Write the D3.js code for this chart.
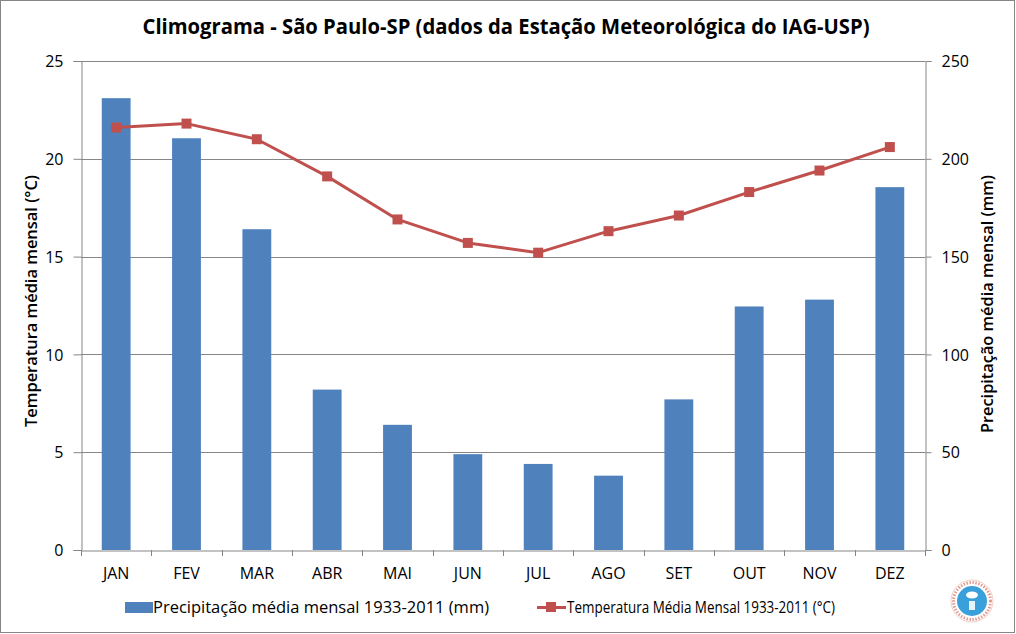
<!DOCTYPE html>
<html><head><meta charset="utf-8">
<script src="https://cdn.jsdelivr.net/npm/d3@7"></script>
<style>body{margin:0;background:#fff}svg{display:block}text{font-family:"Open Sans","Liberation Sans",sans-serif}</style>
</head><body><svg id="c" width="1016" height="634"></svg>
<script>
const months = ["JAN","FEV","MAR","ABR","MAI","JUN","JUL","AGO","SET","OUT","NOV","DEZ"];
const precipitation = [231, 210.5, 164, 82, 64, 49, 44, 38, 77, 124.5, 128, 185.5];
const temperature = [21.6, 21.8, 21.0, 19.1, 16.9, 15.7, 15.2, 16.3, 17.1, 18.3, 19.4, 20.6];
const tempTicks = [0,5,10,15,20,25];
const precTicks = [0,50,100,150,200,250];

const svg = d3.select("#c");
const L = 81, R = 925, T = 61, B = 550;
const x = d3.scaleBand().domain(months).range([L, R]).paddingInner(0.59).paddingOuter(0.295);
const xb = d3.scaleBand().domain(months).range([L, R]);
const yT = d3.scaleLinear().domain([0,25]).range([B, T]);
const yP = d3.scaleLinear().domain([0,250]).range([B, T]);

svg.append("rect").attr("x",0.5).attr("y",0.5).attr("width",1014).attr("height",632).attr("fill","#fff").attr("stroke","#868686");

// gridlines
svg.append("g").selectAll("line").data(tempTicks.filter(d=>d>0)).join("line")
  .attr("x1",L).attr("x2",R).attr("y1",d=>Math.round(yT(d))+0.5).attr("y2",d=>Math.round(yT(d))+0.5)
  .attr("stroke","#868686").attr("stroke-width",1);

// bars
svg.append("g").selectAll("rect").data(months).join("rect")
  .attr("x",d=>x(d)).attr("width",x.bandwidth())
  .attr("y",(d,i)=>yP(precipitation[i])).attr("height",(d,i)=>B-yP(precipitation[i]))
  .attr("fill","#4F81BD");

// axes
const axL = svg.append("g").attr("transform",`translate(${L+0.5},0)`)
  .call(d3.axisLeft(yT).tickValues(tempTicks).tickSize(8).tickPadding(10));
const axR = svg.append("g").attr("transform",`translate(${R+0.5},0)`)
  .call(d3.axisRight(yP).tickValues(precTicks).tickSize(6).tickPadding(10));
const axB = svg.append("g").attr("transform",`translate(0,${B+0.5})`)
  .call(d3.axisBottom(xb).tickSize(0).tickPadding(17));
[axL,axR,axB].forEach(a=>{
  a.select(".domain").attr("stroke","#868686");
  a.selectAll(".tick line").attr("stroke","#868686");
  a.selectAll("text").attr("font-size",16).attr("fill","#000");
});
axL.selectAll("text").attr("dy","0.36em");
axR.selectAll("text").attr("dy","0.36em");
// category boundary tick marks
svg.append("g").selectAll("line").data(d3.range(0,13)).join("line")
  .attr("x1",i=>Math.round(L+i*xb.step())+0.5).attr("x2",i=>Math.round(L+i*xb.step())+0.5)
  .attr("y1",B).attr("y2",B+6).attr("stroke","#868686");

// temperature line
const line = d3.line().x((d,i)=>xb(months[i])+xb.bandwidth()/2).y(d=>yT(d));
svg.append("path").datum(temperature).attr("d",line).attr("fill","none")
  .attr("stroke","#C0504D").attr("stroke-width",3).attr("stroke-linejoin","round");
svg.append("g").selectAll("rect").data(temperature).join("rect")
  .attr("x",(d,i)=>xb(months[i])+xb.bandwidth()/2-5).attr("y",d=>yT(d)-5)
  .attr("width",10).attr("height",10).attr("fill","#C0504D");

// title
svg.append("text").attr("x",506).attr("y",34).attr("text-anchor","middle")
  .attr("font-size",21).attr("font-weight","bold").attr("textLength",727).attr("lengthAdjust","spacingAndGlyphs")
  .text("Climograma - São Paulo-SP (dados da Estação Meteorológica do IAG-USP)");

// axis titles
svg.append("text").attr("transform","translate(37,301) rotate(-90)").attr("text-anchor","middle")
  .attr("font-size",16).attr("font-weight",600).attr("textLength",252).attr("lengthAdjust","spacingAndGlyphs")
  .text("Temperatura média mensal (°C)");
svg.append("text").attr("transform","translate(993,304) rotate(-90)").attr("text-anchor","middle")
  .attr("font-size",16).attr("font-weight",600).attr("textLength",258).attr("lengthAdjust","spacingAndGlyphs")
  .text("Precipitação média mensal (mm)");

// legend
const lg = svg.append("g");
lg.append("rect").attr("x",125).attr("y",602).attr("width",28).attr("height",11).attr("fill","#4F81BD");
lg.append("text").attr("x",153).attr("y",613).attr("font-size",16).attr("textLength",336).attr("lengthAdjust","spacingAndGlyphs")
  .text("Precipitação média mensal 1933-2011 (mm)");
lg.append("line").attr("x1",537).attr("x2",566).attr("y1",607.5).attr("y2",607.5).attr("stroke","#C0504D").attr("stroke-width",3);
lg.append("rect").attr("x",546).attr("y",602).attr("width",10).attr("height",10).attr("fill","#C0504D");
lg.append("text").attr("x",567).attr("y",613).attr("font-size",16).attr("textLength",268).attr("lengthAdjust","spacingAndGlyphs")
  .text("Temperatura Média Mensal 1933-2011 (°C)");

// logo
const lo = svg.append("g").attr("transform","translate(972,601)");
lo.append("circle").attr("r",21).attr("fill","#fff").attr("stroke","#f0d0c8").attr("stroke-width",1);
lo.append("circle").attr("r",18.5).attr("fill","none").attr("stroke","#e29a90").attr("stroke-width",3).attr("stroke-dasharray","1.5 1.5");
lo.append("circle").attr("r",15).attr("fill","#3aa0dc");
lo.append("ellipse").attr("cx",0).attr("cy",-6).attr("rx",6).attr("ry",3.5).attr("fill","#fff");
lo.append("rect").attr("x",-3).attr("y",0).attr("width",6).attr("height",9).attr("fill","#e8f4fb");
</script></body></html>
